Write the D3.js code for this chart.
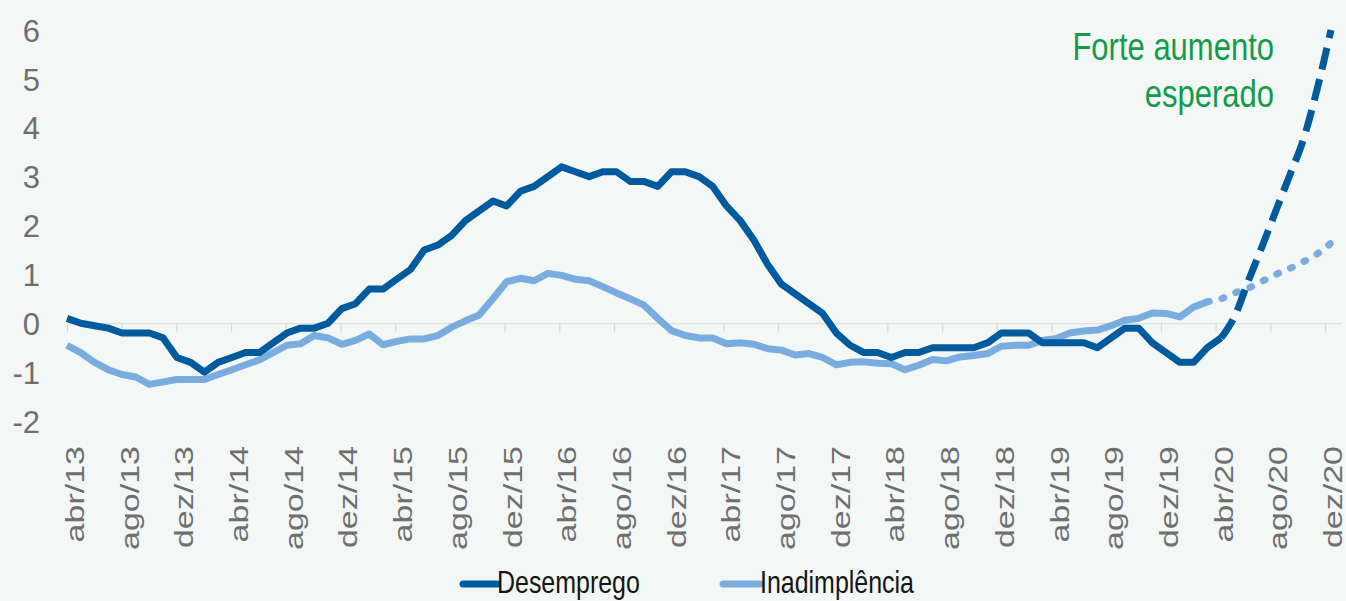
<!DOCTYPE html>
<html>
<head>
<meta charset="utf-8">
<script src="https://cdn.jsdelivr.net/npm/d3@7"></script>
<style>
  html, body { margin: 0; padding: 0; background: #f3f8f6; }
  svg { display: block; }
  text { font-family: "Liberation Sans", Arial, Helvetica, sans-serif; }
</style>
</head>
<body>
<svg id="chart" width="1346" height="601"></svg>
<script>
// ---------- data ----------
const meses = ["jan","fev","mar","abr","mai","jun","jul","ago","set","out","nov","dez"];
const anos = ["13","14","15","16","17","18","19","20"];
// categories: abr/13 ... dez/20 (monthly)
const categories = [];
anos.forEach((a, i) => meses.forEach((m, j) => { if (!(i === 0 && j < 3)) categories.push(m + "/" + a); }));

const tickLabels = ["abr/13","ago/13","dez/13","abr/14","ago/14","dez/14","abr/15","ago/15","dez/15",
  "abr/16","ago/16","dez/16","abr/17","ago/17","dez/17","abr/18","ago/18","dez/18",
  "abr/19","ago/19","dez/19","abr/20","ago/20","dez/20"];

const yTicks = [-2, -1, 0, 1, 2, 3, 4, 5, 6];

// Desemprego: abr/13 .. abr/20 (observed)
const desemprego = [0.1, 0.0, -0.05, -0.1, -0.2, -0.2, -0.2, -0.3, -0.7, -0.8,
  -1.0, -0.8, -0.7, -0.6, -0.6, -0.4, -0.2, -0.1, -0.1, 0.0,
  0.3, 0.4, 0.7, 0.7, 0.9, 1.1, 1.5, 1.6, 1.8, 2.1,
  2.3, 2.5, 2.4, 2.7, 2.8, 3.0, 3.2, 3.1, 3.0, 3.1,
  3.1, 2.9, 2.9, 2.8, 3.1, 3.1, 3.0, 2.8, 2.4, 2.1,
  1.7, 1.2, 0.8, 0.6, 0.4, 0.2, -0.2, -0.45, -0.6, -0.6,
  -0.7, -0.6, -0.6, -0.5, -0.5, -0.5, -0.5, -0.4, -0.2, -0.2,
  -0.2, -0.4, -0.4, -0.4, -0.4, -0.5, -0.3, -0.1, -0.1, -0.4,
  -0.6, -0.8, -0.8, -0.5, -0.3];
// Desemprego projection: abr/20 .. dez/20
const desempregoProj = [-0.3, 0.15, 0.88, 1.58, 2.31, 3.03, 3.77, 4.8, 6.0];

// Inadimplência: abr/13 .. mar/20 (observed)
const inadimplencia = [-0.45, -0.6, -0.8, -0.95, -1.05, -1.1, -1.25, -1.2, -1.15, -1.15,
  -1.15, -1.05, -0.95, -0.85, -0.75, -0.6, -0.45, -0.42, -0.25, -0.3,
  -0.43, -0.35, -0.22, -0.44, -0.37, -0.32, -0.32, -0.25, -0.08, 0.05,
  0.17, 0.5, 0.85, 0.92, 0.87, 1.02, 0.98, 0.9, 0.87, 0.75,
  0.62, 0.5, 0.37, 0.1, -0.15, -0.25, -0.3, -0.3, -0.42, -0.4,
  -0.43, -0.52, -0.55, -0.65, -0.62, -0.7, -0.85, -0.8, -0.79, -0.82,
  -0.83, -0.95, -0.86, -0.74, -0.77, -0.69, -0.66, -0.62, -0.47, -0.45,
  -0.45, -0.35, -0.31, -0.2, -0.16, -0.14, -0.05, 0.06, 0.1, 0.21,
  0.2, 0.13, 0.33, 0.44];
// Inadimplência projection: mar/20 .. dez/20
const inadimplenciaProj = [0.44, 0.5, 0.62, 0.72, 0.86, 1.0, 1.12, 1.26, 1.42, 1.64];

const seriesNames = ["Desemprego", "Inadimplência"];
const annotation = ["Forte aumento", "esperado"];

// ---------- styles ----------
const darkBlue = "#005a9e";
const lightBlue = "#7aaddf";
const gridGrey = "#d9d9d9";
const labelGrey = "#6f6f6f";
const green = "#139b4b";

// ---------- scales ----------
const svg = d3.select("#chart");
const x = d3.scalePoint().domain(categories).range([67, 1331]);
const xTick = d3.scalePoint().domain(categories).range([67, 1325]);
const y = d3.scaleLinear().domain([-2, 6]).range([421, 30]);

// zero line with tick marks
const zeroAxis = d3.axisBottom(xTick)
  .tickValues(tickLabels)
  .tickSize(9)
  .tickSizeOuter(0)
  .tickFormat("");
const gz = svg.append("g").attr("transform", `translate(0,${y(0)})`).call(zeroAxis);
gz.select(".domain").attr("d", `M67,0.5H1342`).attr("stroke", gridGrey).attr("stroke-width", 1);
gz.selectAll(".tick line").attr("stroke", gridGrey).attr("stroke-width", 1.2);

// y axis labels
const yAxis = d3.axisLeft(y).tickValues(yTicks).tickSize(0).tickPadding(0).tickFormat(d3.format("d"));
const gy = svg.append("g").attr("transform", "translate(40,0)").call(yAxis);
gy.select(".domain").remove();
gy.selectAll(".tick text")
  .attr("fill", labelGrey)
  .attr("font-size", 31)
  .attr("font-family", "'Liberation Sans', Arial, sans-serif")
  .attr("dy", "0.36em")
  .text(d => d < 0 ? "-" + Math.abs(d) : d);

// x axis labels (rotated)
const xAxis = d3.axisBottom(xTick).tickValues(tickLabels).tickSize(0).tickPadding(0);
const gx = svg.append("g").attr("transform", "translate(0,0)").call(xAxis);
gx.select(".domain").remove();
gx.selectAll(".tick").attr("transform", d => `translate(${xTick(d)},0)`);
gx.selectAll(".tick text")
  .attr("fill", labelGrey)
  .attr("font-size", 34)
  .attr("font-family", "'Liberation Sans', Arial, sans-serif")
  .attr("text-anchor", "end")
  .attr("dy", null)
  .attr("y", null)
  .attr("transform", "translate(17,446) rotate(-90) scale(1,0.76)");

// ---------- lines ----------
const line = d3.line().x(d => x(d.c)).y(d => y(d.v)).curve(d3.curveLinear);

const dData = desemprego.map((v, i) => ({ c: categories[i], v }));
const dProj = desempregoProj.map((v, i) => ({ c: categories[desemprego.length - 1 + i], v }));
const iData = inadimplencia.map((v, i) => ({ c: categories[i], v }));
const iProj = inadimplenciaProj.map((v, i) => ({ c: categories[inadimplencia.length - 1 + i], v }));

svg.append("path").datum(iData).attr("d", line)
  .attr("fill", "none").attr("stroke", lightBlue).attr("stroke-width", 7)
  .attr("stroke-linejoin", "round");
svg.append("path").datum(iProj).attr("d", line.curve(d3.curveMonotoneX))
  .attr("fill", "none").attr("stroke", lightBlue).attr("stroke-width", 7)
  .attr("stroke-linecap", "round").attr("stroke-dasharray", "2,13");
line.curve(d3.curveLinear);
svg.append("path").datum(dData).attr("d", line)
  .attr("fill", "none").attr("stroke", darkBlue).attr("stroke-width", 7)
  .attr("stroke-linejoin", "round");
svg.append("path").datum(dProj).attr("d", line.curve(d3.curveMonotoneX))
  .attr("fill", "none").attr("stroke", darkBlue).attr("stroke-width", 7)
  .attr("stroke-dasharray", "22,10");

// ---------- annotation ----------
const ann = svg.append("g").attr("fill", green).attr("font-size", 39);
annotation.forEach((t, i) => {
  ann.append("text").attr("text-anchor", "end")
    .attr("transform", `translate(1274,${60 + i * 47}) scale(0.795,1)`)
    .text(t);
});

// ---------- legend ----------
const legendItems = [
  { name: seriesNames[0], color: darkBlue, x0: 463, x1: 497 },
  { name: seriesNames[1], color: lightBlue, x0: 723, x1: 760 }
];
const lg = svg.append("g");
legendItems.forEach(it => {
  lg.append("line").attr("x1", it.x0).attr("x2", it.x1).attr("y1", 584).attr("y2", 584)
    .attr("stroke", it.color).attr("stroke-width", 7).attr("stroke-linecap", "round");
  lg.append("text").attr("transform", `translate(${it.x1},593) scale(0.78,1)`)
    .attr("font-size", 32).attr("fill", "#141414").text(it.name);
});
</script>
</body>
</html>
